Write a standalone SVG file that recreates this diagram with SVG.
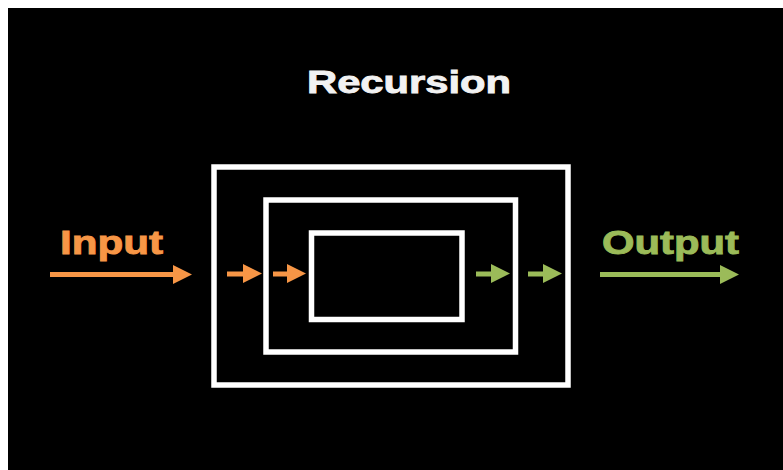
<svg xmlns="http://www.w3.org/2000/svg" width="783" height="470" viewBox="0 0 783 470">
<style>
.lbl{font-family:"Liberation Sans",Arial,sans-serif;font-weight:bold;stroke-width:0.9;}
.box{fill:none;stroke:#ffffff;stroke-width:5.5;}
.in{fill:#F79646;}
.out{fill:#9BBB59;}
</style>
<rect x="0" y="0" width="783" height="470" fill="#ffffff"/>
<rect x="8" y="8" width="775" height="462" fill="#000000"/>
<g id="title"><text class="lbl" x="307" y="93" font-size="32" fill="#F2F2F2" stroke="#F2F2F2" textLength="204" lengthAdjust="spacingAndGlyphs">Recursion</text></g>
<g id="input-label"><text class="lbl in" x="60" y="254" font-size="34" stroke="#F79646" textLength="103" lengthAdjust="spacingAndGlyphs">Input</text></g>
<g id="output-label"><text class="lbl out" x="602" y="254" font-size="34" stroke="#9BBB59" textLength="137" lengthAdjust="spacingAndGlyphs">Output</text></g>
<g id="outer"><rect class="box" x="214" y="167" width="354" height="218"/></g>
<g id="middle"><rect class="box" x="266" y="200" width="249.5" height="152"/></g>
<g id="inner"><rect class="box" x="311.5" y="233" width="150.5" height="86.5"/></g>
<g id="connectors">
<path class="in" d="M50,272 H173 V265 L192,274.5 L173,284 V277 H50 Z"/>
<path class="in" d="M227,271.5 H243 V264 L262,273.5 L243,283 V276.5 H227 Z"/>
<path class="in" d="M273,271.5 H287 V264 L306,273.5 L287,283 V276.5 H273 Z"/>
<path class="out" d="M476,271.5 H491 V264 L510,273.5 L491,283 V276.5 H476 Z"/>
<path class="out" d="M528,271.5 H543 V264 L562,273.5 L543,283 V276.5 H528 Z"/>
<path class="out" d="M600,272 H720 V265 L739,274.5 L720,284 V277 H600 Z"/>
</g>
</svg>
